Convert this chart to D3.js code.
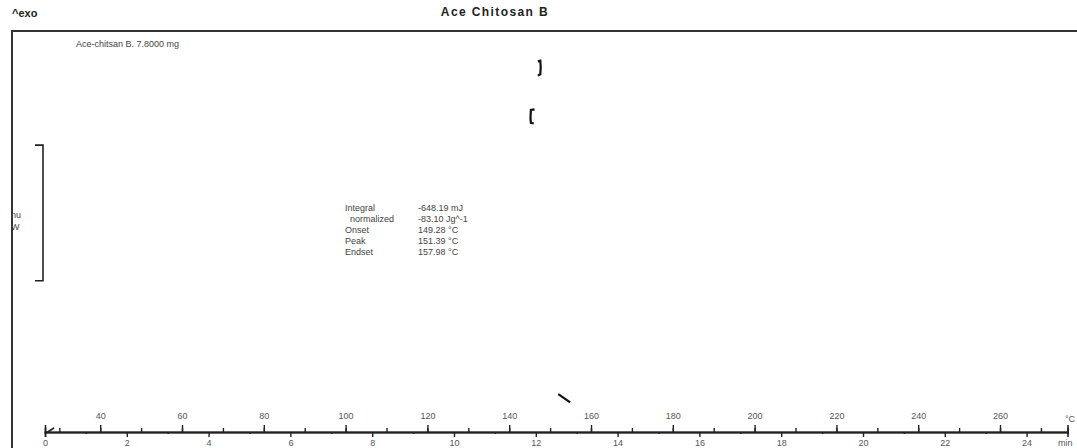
<!DOCTYPE html>
<html>
<head>
<meta charset="utf-8">
<script src="https://cdn.jsdelivr.net/npm/d3@7"></script>
<style>
  body { margin: 0; background: #fff; }
  svg { display: block; font-family: "Liberation Sans", Arial, sans-serif; }
</style>
</head>
<body>
<div id="chart"></div>
<script>
// DSC run: 10 K/min
const title = "Ace Chitosan B";
const sampleLabel = "Ace-chitsan B. 7.8000 mg";
const timeTicks = [0, 2, 4, 6, 8, 10, 12, 14, 16, 18, 20, 22, 24];
const tempTicks = [40, 60, 80, 100, 120, 140, 160, 180, 200, 220, 240, 260];
const resultLabels = ["Integral", "  normalized", "Onset", "Peak", "Endset"];
const resultValues = ["-648.19 mJ", "-83.10 Jg^-1", "149.28 °C", "151.39 °C", "157.98 °C"];
// visible pieces of the heat flow curve: [temperature °C, heat flow mW]
const curveTop = [[147.0, 5.49], [147.6, 5.50], [147.7, 5.40], [147.6, 5.30], [147.0, 5.28]];
const curveMid = [[146.2, 4.78], [145.3, 4.77], [145.2, 4.65], [145.3, 4.58], [146.0, 4.57]];
const curveLow = [[152.0, 0.56], [154.9, 0.44]];
const scaleBar = [4.25, 2.24]; // mW

const width = 1077, height = 448;
const startTemp = 26.5, rate = 10;

const svg = d3.select("#chart").append("svg")
  .attr("width", width).attr("height", height);

const xTime = d3.scaleLinear().domain([0, 25]).range([45, 45 + 25 * 40.9]);
const xTemp = d3.scaleLinear()
  .domain([startTemp, startTemp + 25 * rate]).range(xTime.range());
const y = d3.scaleLinear().domain([0, 6]).range([432, 27]);

// header
svg.append("text").attr("x", 12).attr("y", 17)
  .style("font-size", "11px").style("font-weight", "bold").attr("fill", "#222")
  .text("^exo");
svg.append("text").attr("x", 495).attr("y", 16).attr("text-anchor", "middle")
  .style("font-size", "12px").style("font-weight", "bold")
  .style("letter-spacing", "1.4px").attr("fill", "#222")
  .text(title);

// frame
svg.append("rect").attr("x", 12).attr("y", 31).attr("width", 1080).attr("height", 430)
  .attr("fill", "none").attr("stroke", "#333").attr("stroke-width", 2);

svg.append("text").attr("x", 76).attr("y", 47)
  .style("font-size", "9px").attr("fill", "#444").text(sampleLabel);

// scale bar
svg.append("path")
  .attr("d", `M35,${y(scaleBar[0])}H43V${y(scaleBar[1])}H35`)
  .attr("fill", "none").attr("stroke", "#222").attr("stroke-width", 1.6);
svg.append("text").attr("x", 11).attr("y", 218)
  .style("font-size", "9px").attr("fill", "#444").text("nu");
svg.append("text").attr("x", 11).attr("y", 230)
  .style("font-size", "9px").attr("fill", "#444").text("W");

// results
const res = svg.append("g").style("font-size", "9px").attr("fill", "#444");
resultLabels.forEach((t, i) => {
  res.append("text").attr("x", 345).attr("y", 211 + i * 11)
    .attr("xml:space", "preserve").text(t);
  res.append("text").attr("x", 418).attr("y", 211 + i * 11).text(resultValues[i]);
});

// curve pieces
const line = d3.line().x(d => xTemp(d[0])).y(d => y(d[1]));
[curveTop, curveMid, curveLow].forEach(seg => {
  svg.append("path").attr("d", line(seg))
    .attr("fill", "none").attr("stroke", "#111").attr("stroke-width", 2.2);
});

// temperature axis (ticks up)
svg.append("g").attr("transform", "translate(0,432)")
  .call(d3.axisTop(xTemp).tickValues(d3.range(30, 275, 10)).tickSize(4).tickFormat(""));
svg.append("g").attr("transform", "translate(0,432)")
  .call(d3.axisTop(xTemp).tickValues(tempTicks).tickSize(7).tickPadding(6))
  .call(g => g.selectAll("text").style("font-size", "9px").attr("fill", "#555")
    .style("font-family", "Liberation Sans, Arial, sans-serif"));

// time axis (ticks down)
svg.append("g").attr("transform", "translate(0,432)")
  .call(d3.axisBottom(xTime).tickValues(d3.range(1, 25, 2)).tickSize(2).tickFormat(""));
svg.append("g").attr("transform", "translate(0,432)")
  .call(d3.axisBottom(xTime).tickValues(timeTicks).tickSize(5).tickPadding(3))
  .call(g => g.selectAll("text").style("font-size", "9px").attr("fill", "#555")
    .style("font-family", "Liberation Sans, Arial, sans-serif"));

svg.selectAll(".domain").attr("stroke", "#222").attr("stroke-width", 1.6);
svg.selectAll(".tick line").attr("stroke", "#222").attr("stroke-width", 1.4);

// start marker
svg.append("path").attr("d", "M46,433L54,428")
  .attr("stroke", "#222").attr("stroke-width", 1.6);

svg.append("text").attr("x", 1065).attr("y", 422)
  .style("font-size", "9px").attr("fill", "#555").text("°C");
svg.append("text").attr("x", 1058).attr("y", 446)
  .style("font-size", "9px").attr("fill", "#555").text("min");
</script>
</body>
</html>
